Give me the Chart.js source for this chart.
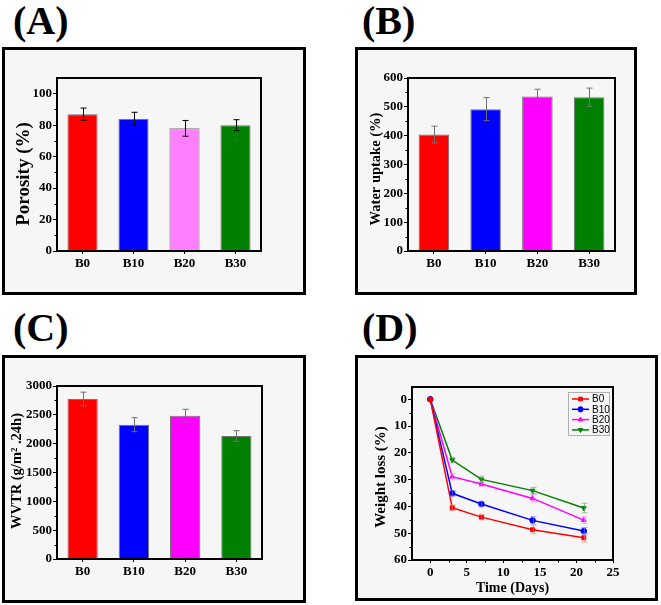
<!DOCTYPE html>
<html><head><meta charset="utf-8">
<script src="https://cdn.jsdelivr.net/npm/chart.js@4/dist/chart.umd.min.js"></script>
<style>
html,body{margin:0;padding:0;background:#fff;}
#page{position:relative;width:661px;height:605px;overflow:hidden;}
.frame{position:absolute;border:3px solid #000;background:#f6f6f6;box-sizing:border-box;}
.lab{position:absolute;font-family:"Liberation Serif","Times New Roman",serif;font-weight:bold;font-size:40px;line-height:40px;color:#000;white-space:nowrap;}
canvas{position:absolute;left:0;top:0;}
</style></head>
<body><div id="page">
<div class="frame" style="left:2px;top:47px;width:304px;height:248px"></div>
<div class="frame" style="left:355px;top:47px;width:282px;height:248px"></div>
<div class="frame" style="left:2px;top:355px;width:304px;height:248px"></div>
<div class="frame" style="left:355px;top:355px;width:303px;height:246px"></div>
<div class="lab" style="left:13px;top:1px">(A)</div>
<div class="lab" style="left:362px;top:1px">(B)</div>
<div class="lab" style="left:13px;top:308px">(C)</div>
<div class="lab" style="left:362px;top:308px">(D)</div>
<canvas id="cA" width="661" height="605"></canvas>
<canvas id="cB" width="661" height="605"></canvas>
<canvas id="cC" width="661" height="605"></canvas>
<canvas id="cD" width="661" height="605"></canvas>
</div>
<script>
// ---------- data ----------
const samples = ['B0', 'B10', 'B20', 'B30'];

const porosity = [87, 84, 78, 80];
const porosityErr = [3.9, 4.2, 5, 3.5];
const porosityTicks = [0, 20, 40, 60, 80, 100];

const waterUptake = [404, 492, 536, 533];
const waterUptakeErr = [29, 40, 25, 32];
const waterTicks = [0, 100, 200, 300, 400, 500, 600];

const wvtr = [2775, 2329, 2486, 2133];
const wvtrErr = [118, 121, 110, 92];
const wvtrTicks = [0, 500, 1000, 1500, 2000, 2500, 3000];

const days = [0, 3, 7, 14, 21];
const lossB0 = [0, 40.5, 44.0, 48.7, 51.7];
const lossB10 = [0, 35.1, 39.1, 45.2, 49.2];
const lossB20 = [0, 28.9, 31.6, 37.0, 45.1];
const lossB30 = [0, 22.7, 29.9, 34.1, 40.6];
const lossErrB0 = [0, 1.0, 1.0, 1.5, 1.6];
const lossErrB10 = [0, 1.0, 1.0, 1.4, 1.3];
const lossErrB20 = [0, 1.2, 1.0, 1.4, 1.3];
const lossErrB30 = [0, 1.0, 1.2, 1.2, 1.8];
const lossTicks = [0, 10, 20, 30, 40, 50, 60];
const dayTicks = [0, 5, 10, 15, 20, 25];

// ---------- styles ----------
const SERIF = '"Liberation Serif","Times New Roman",serif';
Chart.defaults.font.family = SERIF;
Chart.defaults.font.weight = 'bold';
Chart.defaults.font.size = 13;
Chart.defaults.color = '#000';
Chart.defaults.animation = false;

const minorPlugin = {
  id: 'minorTicks',
  afterDraw(chart, args, o) {
    const ctx = chart.ctx, ca = chart.chartArea;
    ctx.save(); ctx.strokeStyle = '#000'; ctx.lineWidth = 1;
    (o.y || []).forEach(v => {
      const p = Math.round(chart.scales.y.getPixelForValue(v)) + 0.5;
      ctx.beginPath(); ctx.moveTo(ca.left - 2.5, p); ctx.lineTo(ca.left, p); ctx.stroke();
    });
    (o.x || []).forEach(v => {
      const p = Math.round(chart.scales.x.getPixelForValue(v)) + 0.5;
      ctx.beginPath(); ctx.moveTo(p, ca.bottom); ctx.lineTo(p, ca.bottom + 2.5); ctx.stroke();
    });
    ctx.restore();
  }
};
const boxPlugin = {
  id: 'plotBox',
  afterDraw(chart) {
    const ctx = chart.ctx, ca = chart.chartArea;
    ctx.save(); ctx.strokeStyle = '#000'; ctx.lineWidth = 2;
    ctx.strokeRect(ca.left, ca.top, ca.right - ca.left, ca.bottom - ca.top);
    ctx.restore();
  }
};
const errPlugin = {
  id: 'errBars',
  afterDatasetsDraw(chart, args, o) {
    const ctx = chart.ctx, ys = chart.scales.y;
    chart.data.datasets.forEach((ds, di) => {
      if (!ds.errors) return;
      const meta = chart.getDatasetMeta(di);
      ctx.save();
      ctx.strokeStyle = ds.errColor || o.color || '#000';
      ctx.lineWidth = o.width || 1;
      meta.data.forEach((el, i) => {
        const e = ds.errors[i]; if (!e) return;
        const raw = ds.data[i]; const v = (typeof raw === 'object') ? raw.y : raw;
        const x = Math.round(el.x) + 0.5;
        const y1 = ys.getPixelForValue(v + e), y2 = ys.getPixelForValue(v - e);
        const c = o.cap || 3;
        ctx.beginPath();
        ctx.moveTo(x, y1); ctx.lineTo(x, y2);
        ctx.moveTo(x - c, y1); ctx.lineTo(x + c, y1);
        ctx.moveTo(x - c, y2); ctx.lineTo(x + c, y2);
        ctx.stroke();
      });
      ctx.restore();
    });
  }
};
const sideTitlePlugin = {
  id: 'sideTitle',
  afterDraw(chart, args, o) {
    if (!o.text) return;
    const ctx = chart.ctx;
    ctx.save();
    ctx.translate(o.x, o.y); ctx.rotate(-Math.PI / 2);
    ctx.font = 'bold ' + o.size + 'px ' + SERIF;
    ctx.textAlign = 'center'; ctx.textBaseline = 'middle'; ctx.fillStyle = '#000';
    ctx.fillText(o.text, 0, 0);
    ctx.restore();
  }
};
const legendPlugin = {
  id: 'boxLegend',
  afterDraw(chart, args, o) {
    if (!o.show) return;
    const ctx = chart.ctx, ca = chart.chartArea;
    const w = 41, h = 43, left = ca.right - 4 - w, top = ca.top + 5;
    ctx.save();
    ctx.strokeStyle = '#b0b0b0'; ctx.lineWidth = 1;
    ctx.strokeRect(left + 0.5, top + 0.5, w, h);
    ctx.font = '10px "Liberation Sans", Arial, sans-serif';
    ctx.textBaseline = 'middle'; ctx.textAlign = 'left';
    chart.data.datasets.forEach((ds, i) => {
      const y = top + 7 + i * 10.3;
      ctx.strokeStyle = ds.borderColor; ctx.lineWidth = 1.5;
      ctx.beginPath(); ctx.moveTo(left + 4, y); ctx.lineTo(left + 21, y); ctx.stroke();
      ctx.fillStyle = ds.borderColor; ctx.lineWidth = 1;
      Chart.helpers.drawPoint(ctx, {pointStyle: ds.pointStyle, rotation: ds.pointRotation || 0, radius: 2.6, borderWidth: 1}, left + 12.5, y);
      ctx.fillStyle = '#000';
      ctx.fillText(ds.label, left + 24, y + 0.5);
    });
    ctx.restore();
  }
};

const YW = 50;
function pad(area, xh) {
  return {left: area.l - YW, top: area.t, right: 661 - area.r, bottom: 605 - area.b - xh};
}
function tickSetter(arr) { return s => { s.ticks = arr.map(v => ({value: v})); }; }
function halfSteps(arr) { const r = []; for (let i = 0; i < arr.length - 1; i++) r.push((arr[i] + arr[i + 1]) / 2); return r; }
const plain = v => String(v);

const tickGrid = {display: true, drawOnChartArea: false, drawTicks: true, tickLength: 4, color: '#000', lineWidth: 1};

function barChart(id, area, values, errs, colors, yMax, ticks, errColor, title) {
  return new Chart(document.getElementById(id), {
    type: 'bar',
    data: {labels: samples, datasets: [{
      data: values, errors: errs, backgroundColor: colors,
      borderColor: 'rgba(60,60,60,0.7)', borderWidth: 1,
      barPercentage: 0.59, categoryPercentage: 1
    }]},
    options: {
      responsive: false, devicePixelRatio: 1,
      layout: {padding: pad(area, 30)},
      plugins: {legend: {display: false}, tooltip: {enabled: false},
        errBars: {color: errColor, cap: 3, width: 1},
        minorTicks: {y: halfSteps(ticks)},
        sideTitle: title},
      scales: {
        x: {grid: Object.assign({}, tickGrid, {offset: false, tickLength: 3}), border: {display: false},
            ticks: {padding: 1.5, font: {size: 13}},
            afterFit: s => { s.height = 30; }},
        y: {min: 0, max: yMax, grid: tickGrid, border: {display: false},
            ticks: {padding: 1, font: {size: 13}, callback: plain},
            afterBuildTicks: tickSetter(ticks),
            afterFit: s => { s.width = YW; }}
      }
    },
    plugins: [errPlugin, minorPlugin, boxPlugin, sideTitlePlugin]
  });
}

barChart('cA', {l: 57, t: 78, r: 261, b: 251}, porosity, porosityErr,
  ['#ff0000', '#0000ff', '#ff80ff', '#008000'], 110, porosityTicks, '#000',
  {text: 'Porosity (%)', x: 24.5, y: 174, size: 19});
barChart('cB', {l: 408, t: 78, r: 615, b: 251}, waterUptake, waterUptakeErr,
  ['#ff0000', '#0000ff', '#ff00ff', '#008000'], 600, waterTicks, '#707070',
  {text: 'Water uptake (%)', x: 376, y: 169, size: 14.5});
barChart('cC', {l: 57, t: 386, r: 262, b: 559}, wvtr, wvtrErr,
  ['#ff0000', '#0000ff', '#ff00ff', '#008000'], 3000, wvtrTicks, '#707070',
  {text: 'WVTR (g/m\u00B2 .24h)', x: 17, y: 471, size: 14.5});

function lineSet(label, ys, errs, color, style, rot, errColor) {
  return {label: label, data: days.map((d, i) => ({x: d, y: ys[i]})), errors: errs, errColor: errColor,
    borderColor: color, backgroundColor: color, borderWidth: 1.5,
    pointStyle: style, pointRotation: rot, pointRadius: 2.8, pointBorderWidth: 1,
    pointBackgroundColor: color, pointBorderColor: color, tension: 0};
}
const areaD = {l: 412, t: 387, r: 613, b: 560};
new Chart(document.getElementById('cD'), {
  type: 'line',
  data: {datasets: [
    lineSet('B0', lossB0, lossErrB0, '#ff0000', 'rect', 0, 'rgba(255,120,120,0.6)'),
    lineSet('B10', lossB10, lossErrB10, '#0000ff', 'circle', 0, 'rgba(120,120,255,0.6)'),
    lineSet('B20', lossB20, lossErrB20, '#ff00ff', 'triangle', 0, 'rgba(255,130,255,0.6)'),
    lineSet('B30', lossB30, lossErrB30, '#008000', 'triangle', 180, 'rgba(80,170,80,0.6)')
  ]},
  options: {
    responsive: false, devicePixelRatio: 1,
    layout: {padding: pad(areaD, 40)},
    plugins: {legend: {display: false}, tooltip: {enabled: false},
      errBars: {cap: 3, width: 1},
      minorTicks: {y: halfSteps(lossTicks), x: halfSteps(dayTicks)},
      sideTitle: {text: 'Weight loss (%)', x: 381, y: 477, size: 15},
      boxLegend: {show: true}},
    scales: {
      x: {type: 'linear', min: -2.5, max: 25, grid: Object.assign({}, tickGrid, {tickLength: 3}), border: {display: false},
          ticks: {padding: 1.5, font: {size: 13}, callback: plain},
          afterBuildTicks: tickSetter(dayTicks),
          title: {display: true, text: 'Time (Days)', font: {size: 14, weight: 'bold'}, padding: {top: 0, bottom: 3.6}},
          afterFit: s => { s.height = 40; }},
      y: {min: -4.6, max: 60, reverse: true, grid: tickGrid, border: {display: false},
          ticks: {padding: 1, font: {size: 13}, callback: plain},
          afterBuildTicks: tickSetter(lossTicks),
          afterFit: s => { s.width = YW; }}
    }
  },
  plugins: [errPlugin, minorPlugin, boxPlugin, sideTitlePlugin, legendPlugin]
});
</script>
</body></html>
